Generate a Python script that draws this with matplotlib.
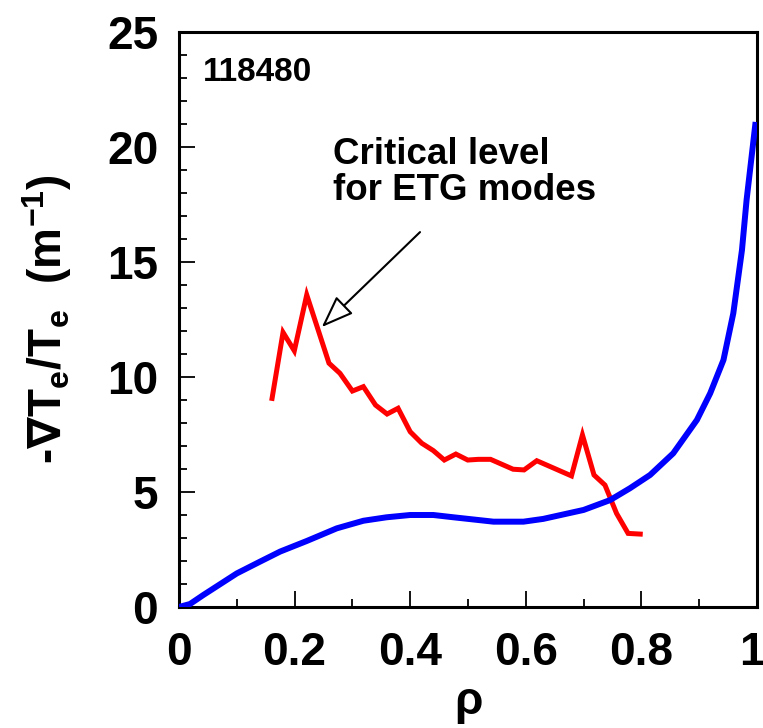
import matplotlib
matplotlib.use("Agg")
import matplotlib.pyplot as plt
import matplotlib.transforms as mtransforms
from matplotlib.ticker import MultipleLocator, FixedLocator

plt.rcParams['font.family'] = ['Liberation Sans', 'DejaVu Sans']
plt.rcParams['font.weight'] = 'bold'
plt.rcParams['mathtext.fontset'] = 'custom'
plt.rcParams['mathtext.rm'] = 'Liberation Sans:bold'
plt.rcParams['mathtext.it'] = 'Liberation Sans:bold'
plt.rcParams['mathtext.bf'] = 'Liberation Sans:bold'
plt.rcParams['mathtext.sf'] = 'DejaVu Sans:bold'
plt.rcParams['mathtext.default'] = 'rm'

# Red: measured normalized gradient
rho_meas = [0.161, 0.180, 0.1995, 0.221, 0.2595, 0.2785, 0.300, 0.319, 0.340, 0.360,
            0.379, 0.400, 0.420, 0.440, 0.459, 0.479, 0.4995, 0.518, 0.539, 0.578,
            0.597, 0.619, 0.679, 0.698, 0.718, 0.737, 0.757, 0.777, 0.798]
grad_meas = [9.07, 11.94, 11.14, 13.57, 10.6, 10.16, 9.39, 9.58, 8.78, 8.39,
             8.64, 7.62, 7.12, 6.80, 6.39, 6.65, 6.39, 6.42, 6.42, 5.99,
             5.96, 6.36, 5.70, 7.48, 5.74, 5.30, 4.07, 3.20, 3.17]

# Blue: critical level for ETG modes
rho_crit = [0.0, 0.019, 0.042, 0.10, 0.14, 0.175, 0.221, 0.273, 0.319, 0.359,
            0.40, 0.44, 0.475, 0.544, 0.596, 0.63, 0.70, 0.746, 0.78, 0.815,
            0.855, 0.896, 0.919, 0.942, 0.959, 0.974, 0.982, 0.997]
grad_crit = [0.0, 0.13, 0.52, 1.46, 1.97, 2.41, 2.87, 3.42, 3.75, 3.90,
             4.0, 4.0, 3.90, 3.71, 3.71, 3.83, 4.22, 4.65, 5.16, 5.74,
             6.68, 8.13, 9.29, 10.74, 12.77, 15.52, 17.7, 20.96]

xticks = [0, 0.2, 0.4, 0.6, 0.8, 1.0]
xticklabels = ['0', '0.2', '0.4', '0.6', '0.8', '1']
yticks = [0, 5, 10, 15, 20, 25]
yticklabels = ['0', '5', '10', '15', '20', '25']

shot_label = '118480'
note_text = 'Critical level\nfor ETG modes'

fig = plt.figure(figsize=(7.63, 7.28), dpi=100)
ax = fig.add_axes([179/763, 1-607/728, (757-179)/763, (607-32)/728])

ax.plot(rho_meas, grad_meas, color='#ff0000', lw=3.6, solid_joinstyle='miter', zorder=3)
ax.plot(rho_crit, grad_crit, color='#0000ff', lw=4.3, zorder=4)

ax.set_xlim(0, 1)
ax.set_ylim(0, 25)
ax.xaxis.set_major_locator(FixedLocator(xticks))
ax.set_xticklabels(xticklabels)
ax.yaxis.set_major_locator(FixedLocator(yticks))
ax.set_yticklabels(yticklabels)
ax.xaxis.set_minor_locator(MultipleLocator(0.1))
ax.yaxis.set_minor_locator(MultipleLocator(1))

ax.tick_params(which='both', direction='in', top=False, right=False, width=1.3)
ax.tick_params(which='major', length=11.5)
ax.tick_params(which='minor', length=6)
ax.tick_params(axis='x', which='major', pad=17, labelsize=33)
ax.tick_params(axis='y', which='major', pad=15, labelsize=33)
for lab in ax.get_xticklabels() + ax.get_yticklabels():
    lab.set_fontweight('bold')

# nudge the last x tick label so it stays inside the canvas
last = ax.get_xticklabels()[-1]
last.set_transform(last.get_transform() +
                   mtransforms.ScaledTranslation(-0.055, 0, fig.dpi_scale_trans))

for s in ax.spines.values():
    s.set_linewidth(2.2)

ax.set_xlabel('ρ', fontsize=33, fontweight='bold', labelpad=4)
ax.set_ylabel('-$\\mathsf{\\nabla}$T$_e$/T$_e$  (m$^{-1}$)', fontsize=33,
              fontweight='bold', labelpad=24)

ax.text(0.0415, 23.9, shot_label, fontsize=24, fontweight='bold', ha='left', va='top')

ax.text(0.266, 20.45, note_text, fontsize=26.5, fontweight='bold', ha='left', va='top',
        linespacing=1.05)
ax.annotate('', xy=(0.247, 12.17), xytext=(0.417, 16.3),
            arrowprops=dict(arrowstyle='-|>,head_length=0.4,head_width=0.15',
                            mutation_scale=50, fc='white', ec='black', lw=1.5,
                            shrinkA=0, shrinkB=0))

fig.savefig('out.png', dpi=100)
